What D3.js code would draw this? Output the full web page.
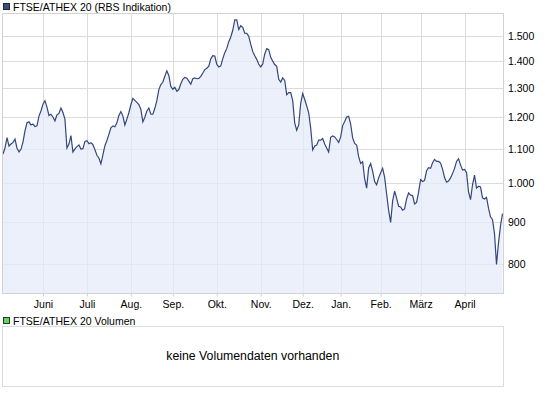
<!DOCTYPE html>
<html>
<head>
<meta charset="utf-8">
<script src="https://cdn.jsdelivr.net/npm/d3@7"></script>
<style>
  html, body { margin: 0; padding: 0; background: #fff; }
  svg { display: block; }
  text { font-family: "Liberation Sans", Arial, sans-serif; }
</style>
</head>
<body>
<svg id="chart" width="545" height="395"></svg>
<script>
// ---- data (one value per trading day) ----
const seriesName = "FTSE/ATHEX 20 (RBS Indikation)";
const volumeName = "FTSE/ATHEX 20 Volumen";
const noVolumeText = "keine Volumendaten vorhanden";

const closeValues = [
  1084,1102,1134,1108,1114,1119,1129,1102,1090,1098,
  1120,1155,1181,1184,1174,1177,1169,1171,1203,1220,
  1243,1255,1233,1205,1209,1200,1187,1207,1212,1230,
  1215,1193,1102,1114,1140,1090,1099,1106,1111,1099,
  1100,1122,1124,1115,1118,1112,1097,1080,1072,1055,
  1081,1109,1125,1144,1165,1171,1168,1181,1205,1218,
  1203,1174,1193,1214,1241,1263,1256,1249,1242,1225,
  1184,1199,1220,1230,1209,1209,1229,1255,1294,1312,
  1320,1342,1362,1345,1305,1295,1302,1288,1294,1315,
  1331,1338,1335,1324,1313,1333,1336,1333,1334,1342,
  1354,1367,1372,1380,1408,1420,1419,1387,1377,1381,
  1409,1432,1449,1476,1495,1523,1567,1567,1526,1542,
  1535,1511,1510,1498,1465,1436,1420,1406,1387,1377,
  1388,1427,1448,1444,1414,1399,1386,1379,1331,1321,
  1336,1327,1276,1283,1283,1255,1181,1157,1174,1246,
  1280,1259,1237,1214,1164,1096,1108,1111,1126,1126,
  1131,1114,1102,1090,1135,1139,1136,1128,1119,1136,
  1172,1185,1200,1202,1177,1133,1116,1111,1076,1056,
  1061,1013,987,1043,1056,1034,1005,996,1015,1029,
  1042,1017,971,929,898,952,979,960,939,937,
  929,932,958,974,968,967,945,949,976,1010,
  1005,1008,1035,1044,1042,1058,1068,1062,1062,1057,
  1040,1016,1003,1006,1015,1027,1042,1062,1070,1052,
  1037,1039,1030,977,956,996,1023,987,992,990,
  961,958,962,934,912,905,871,800,849,890,
  920
];

const monthLabels   = ["Juni","Juli","Aug.","Sep.","Okt.","Nov.","Dez.","Jan.","Feb.","März","April"];
const monthStartDay = [20, 42, 64, 85, 107, 129, 150, 169, 189, 209, 231];

const yTickValues = [800, 900, 1000, 1100, 1200, 1300, 1400, 1500];
const yDomain = [738.7, 1597];

// ---- layout ----
const plot = { left: 2.5, right: 503, top: 13, bottom: 293.5 };
const vol  = { left: 2.5, right: 503, top: 326.5, bottom: 386.5 };
const smallFont = 10.5;

const svg = d3.select("#chart");

const x = d3.scaleLinear()
  .domain([0, closeValues.length - 1])
  .range([plot.left + 0.5, plot.right - 0.5]);

const y = d3.scaleLog()
  .domain(yDomain)
  .range([plot.bottom, plot.top]);

const fmt = d3.formatLocale({ decimal: ",", thousands: ".", grouping: [3], currency: ["", "€"] }).format(",d");

// legend 1
svg.append("rect").attr("x", 3.5).attr("y", 3.5).attr("width", 6).attr("height", 6)
  .attr("fill", "#3a4e7c").attr("stroke", "#1d2840").attr("stroke-width", 1);
svg.append("text").attr("x", 13).attr("y", 11).attr("font-size", smallFont).attr("fill", "#000")
  .text(seriesName);

// grid
const g = svg.append("g");
g.selectAll("line.hg").data(yTickValues).join("line")
  .attr("x1", plot.left).attr("x2", plot.right)
  .attr("y1", d => Math.round(y(d)) + 0.5).attr("y2", d => Math.round(y(d)) + 0.5)
  .attr("stroke", "#dcdcdc").attr("shape-rendering", "crispEdges");
g.selectAll("line.vg").data(monthStartDay).join("line")
  .attr("y1", plot.top).attr("y2", plot.bottom)
  .attr("x1", d => Math.round(x(d)) + 0.5).attr("x2", d => Math.round(x(d)) + 0.5)
  .attr("stroke", "#dcdcdc").attr("shape-rendering", "crispEdges");

// area + line
const area = d3.area()
  .x((d, i) => x(i))
  .y0(plot.bottom)
  .y1(d => y(d));
const line = d3.line()
  .x((d, i) => x(i))
  .y(d => y(d));

svg.append("path").datum(closeValues).attr("d", area)
  .attr("fill", "#e6ebf8").attr("fill-opacity", 0.75);
svg.append("path").datum(closeValues).attr("d", line)
  .attr("fill", "none").attr("stroke", "#33477a").attr("stroke-width", 1.2)
  .attr("stroke-linejoin", "miter");

// plot frame
svg.append("rect")
  .attr("x", plot.left).attr("y", plot.top)
  .attr("width", plot.right - plot.left).attr("height", plot.bottom - plot.top)
  .attr("fill", "none").attr("stroke", "#d2d2d2").attr("shape-rendering", "crispEdges");

// y axis (right)
const yAxis = d3.axisRight(y).tickValues(yTickValues).tickFormat(d => fmt(d))
  .tickSize(0).tickPadding(5);
svg.append("g").attr("transform", `translate(${plot.right},0)`).call(yAxis)
  .call(s => s.select(".domain").remove())
  .call(s => s.selectAll("text").attr("font-size", smallFont).attr("fill", "#000")
    .attr("font-family", "Liberation Sans, Arial, sans-serif"));

// x axis
const xAxis = d3.axisBottom(x).tickValues(monthStartDay)
  .tickFormat((d, i) => monthLabels[i]).tickSize(3).tickPadding(4);
svg.append("g").attr("transform", `translate(0,${plot.bottom})`).call(xAxis)
  .call(s => s.select(".domain").remove())
  .call(s => s.selectAll("line").attr("stroke", "#d2d2d2"))
  .call(s => s.selectAll("text").attr("font-size", smallFont).attr("fill", "#000")
    .attr("font-family", "Liberation Sans, Arial, sans-serif"));

// legend 2
svg.append("rect").attr("x", 3.5).attr("y", 317.5).attr("width", 6).attr("height", 6)
  .attr("fill", "#66d166").attr("stroke", "#1d4020").attr("stroke-width", 1);
svg.append("text").attr("x", 13).attr("y", 324.5).attr("font-size", smallFont).attr("fill", "#000")
  .text(volumeName);

// volume box
svg.append("rect")
  .attr("x", vol.left).attr("y", vol.top)
  .attr("width", vol.right - vol.left).attr("height", vol.bottom - vol.top)
  .attr("fill", "#fff").attr("stroke", "#dcdcdc").attr("shape-rendering", "crispEdges");
svg.append("text").attr("x", (vol.left + vol.right) / 2).attr("y", 360)
  .attr("text-anchor", "middle").attr("font-size", 12.3).attr("fill", "#000")
  .text(noVolumeText);
</script>
</body>
</html>
